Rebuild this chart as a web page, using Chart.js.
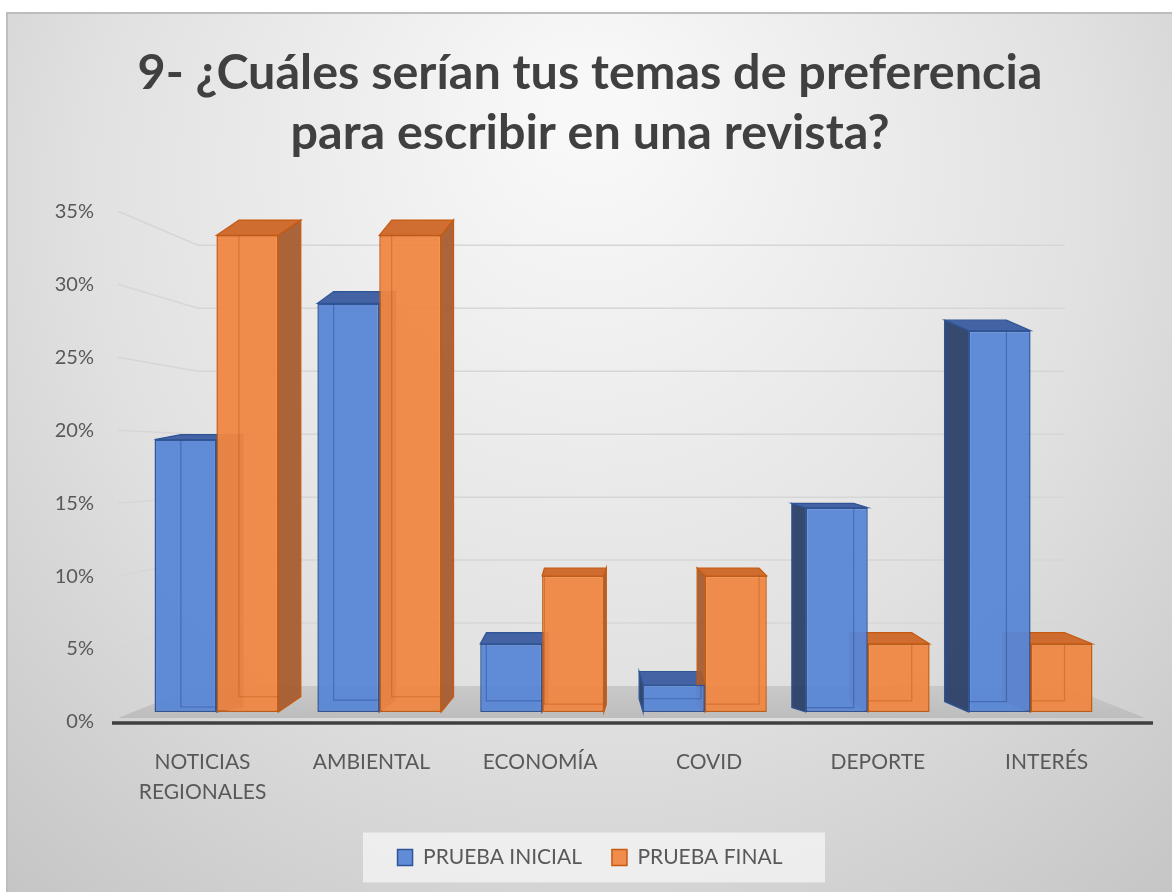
<!DOCTYPE html>
<html><head><meta charset="utf-8">
<script src="https://cdn.jsdelivr.net/npm/chart.js@4.4.0/dist/chart.umd.min.js"></script>
<style>html,body{margin:0;padding:0;background:#fff;}canvas{display:block}</style>
</head><body>
<canvas id="c" width="1172" height="892"></canvas>
<script>
// ---- data ----
const categories = [['NOTICIAS','REGIONALES'], 'AMBIENTAL', 'ECONOMÍA', 'COVID', 'DEPORTE', 'INTERÉS'];
const seriesNames = ['PRUEBA INICIAL', 'PRUEBA FINAL'];
const pruebaInicial = [20, 30, 5, 2, 15, 28];
const pruebaFinal = [35, 35, 10, 10, 5, 5];
const yTicks = [0, 5, 10, 15, 20, 25, 30, 35];
const titleLines = ['9- ¿Cuáles serían tus temas de preferencia', 'para escribir en una revista?'];

const FONT = 'Lato, "Open Sans", sans-serif';
const TXT = '#595959';

const bgPlugin = {
  id: 'bg',
  beforeDraw(chart) {
    const {ctx, width, height} = chart;
    ctx.save();
    ctx.fillStyle = '#fff'; ctx.fillRect(0, 0, width, height);
    const g = ctx.createRadialGradient(590, 110, 40, 590, 260, 880);
    g.addColorStop(0, '#f8f8f8'); g.addColorStop(0.55, '#e1e1e1'); g.addColorStop(1, '#c4c4c4');
    ctx.fillStyle = g; ctx.fillRect(6, 12, width - 6, height - 12);
    ctx.strokeStyle = '#bdbdbd'; ctx.lineWidth = 2;
    ctx.beginPath(); ctx.moveTo(7, height); ctx.lineTo(7, 13); ctx.lineTo(width, 13); ctx.stroke();
    const lg = chart.legend;
    if (lg && lg.legendHitBoxes && lg.legendHitBoxes.length) {
      const hb = lg.legendHitBoxes;
      const last = hb[hb.length - 1];
      const cx = (hb[0].left + last.left + last.width) / 2 + 4;
      const cy = hb[0].top + hb[0].height / 2;
      ctx.fillStyle = 'rgba(246,246,246,0.75)';
      ctx.fillRect(cx - 231, cy - 25, 462, 50);
    }
    ctx.restore();
  }
};

const VXOFF = -13, K = 0.062, EYE = 480;
const faceColors = [
  {top: 'rgba(58,92,160,0.95)', side: 'rgba(44,64,104,0.95)', edge: '#2f5597', inner: 'rgba(40,70,140,0.45)'},
  {top: 'rgba(206,102,38,0.95)', side: 'rgba(168,92,48,0.95)', edge: '#c55a11', inner: 'rgba(190,85,20,0.45)'}
];
function depthOf(chart, x, y) {
  const ca = chart.chartArea;
  const VX = (ca.left + ca.right) / 2 + VXOFF;
  return {dx: (VX - x) * K, dy: -(3 + 0.05 * Math.abs(y - EYE))};
}

const depthPlugin = {
  id: 'depth',
  beforeDatasetsDraw(chart) {
    const {ctx, chartArea: ca, scales} = chart;
    const yg = scales.yGrid, yl = scales.yLab, yb = scales.y;
    const backL = ca.left + 63, backR = ca.right - 47;
    const frontL = ca.left - 17, frontR = ca.right + 33;
    const yBack0 = yg.getPixelForValue(0);
    const yFront0 = yb.getPixelForValue(0) + 6;
    ctx.save();
    const fg = ctx.createLinearGradient(0, yBack0, 0, yFront0);
    fg.addColorStop(0, '#c9c9c9'); fg.addColorStop(1, '#bdbdbd');
    ctx.fillStyle = fg;
    ctx.beginPath();
    ctx.moveTo(backL, yBack0); ctx.lineTo(backR, yBack0);
    ctx.lineTo(frontR, yFront0); ctx.lineTo(frontL, yFront0); ctx.closePath(); ctx.fill();
    ctx.strokeStyle = '#d6d6d6'; ctx.lineWidth = 1.5;
    yTicks.forEach(v => {
      if (v === 0) return;
      const yw = yg.getPixelForValue(v), ylab = yl.getPixelForValue(v);
      ctx.beginPath(); ctx.moveTo(frontL, ylab); ctx.lineTo(backL, yw); ctx.lineTo(backR, yw); ctx.stroke();
    });
    ctx.strokeStyle = '#3f3f3f'; ctx.lineWidth = 3.5;
    ctx.beginPath(); ctx.moveTo(frontL - 6, ca.bottom + 1); ctx.lineTo(frontR + 8, ca.bottom + 1); ctx.stroke();
    chart.data.datasets.forEach((ds, di) => {
      const meta = chart.getDatasetMeta(di);
      const fc = faceColors[di];
      meta.data.forEach(bar => {
        const {x, y, base, width} = bar.getProps(['x', 'y', 'base', 'width'], true);
        const l = x - width / 2, r = x + width / 2;
        const {dx, dy} = depthOf(chart, x, y);
        ctx.lineWidth = 1.2; ctx.strokeStyle = fc.edge;
        const sx = dx >= 0 ? r : l;
        ctx.fillStyle = fc.side;
        ctx.beginPath();
        ctx.moveTo(sx, y); ctx.lineTo(sx + dx, y + dy); ctx.lineTo(sx + dx, base + dy); ctx.lineTo(sx, base);
        ctx.closePath(); ctx.fill(); ctx.stroke();
        ctx.fillStyle = fc.top;
        ctx.beginPath();
        ctx.moveTo(l, y); ctx.lineTo(r, y); ctx.lineTo(r + dx, y + dy); ctx.lineTo(l + dx, y + dy);
        ctx.closePath(); ctx.fill(); ctx.stroke();
      });
    });
    ctx.restore();
  },
  afterDatasetsDraw(chart) {
    const {ctx} = chart;
    ctx.save();
    chart.data.datasets.forEach((ds, di) => {
      const meta = chart.getDatasetMeta(di);
      const fc = faceColors[di];
      meta.data.forEach(bar => {
        const {x, y, base, width} = bar.getProps(['x', 'y', 'base', 'width'], true);
        const l = x - width / 2, r = x + width / 2;
        const {dx, dy} = depthOf(chart, x, y);
        const ix = dx >= 0 ? l + dx : r + dx;
        ctx.strokeStyle = fc.inner; ctx.lineWidth = 1.2;
        ctx.beginPath();
        ctx.moveTo(ix, Math.max(y, y + dy)); ctx.lineTo(ix, base + dy);
        ctx.lineTo(dx >= 0 ? r : l, base + dy);
        ctx.stroke();
      });
    });
    ctx.restore();
  }
};

new Chart(document.getElementById('c'), {
  type: 'bar',
  data: {
    labels: categories,
    datasets: [
      {label: seriesNames[0], data: pruebaInicial, backgroundColor: 'rgba(88,134,214,0.95)', borderColor: '#2f5597', borderWidth: 1.5, borderSkipped: false},
      {label: seriesNames[1], data: pruebaFinal, backgroundColor: 'rgba(240,135,66,0.95)', borderColor: '#c55a11', borderWidth: 1.5, borderSkipped: false}
    ]
  },
  options: {
    responsive: false,
    animation: false,
    datasets: {bar: {categoryPercentage: 0.76, barPercentage: 1.0}},
    layout: {padding: {left: 8, right: 0, top: 0, bottom: 14}},
    scales: {
      x: {type: 'category', display: false, offset: true},
      xLab: {
        type: 'linear', position: 'bottom', bounds: 'data', offset: false, min: -0.40, max: 5.387,
        afterBuildTicks: s => { s.ticks = categories.map((c, i) => ({value: i})); },
        afterFit: s => { s.height = 95; },
        grid: {display: false, drawTicks: false, offset: false}, border: {display: false},
        ticks: {autoSkip: false, maxRotation: 0, padding: 25, color: TXT,
          font: {family: FONT, size: 21, lineHeight: 1.45},
          callback: v => categories[v]}
      },
      y: {type: 'linear', display: false, min: -0.734, max: 36.763},
      yGrid: {type: 'linear', display: false, position: 'left', min: -2.857, max: 37.699},
      yLab: {
        type: 'linear', position: 'left', min: 0, max: 35,
        afterBuildTicks: s => { s.ticks = yTicks.map(v => ({value: v})); },
        afterFit: s => { s.width = 127; },
        grid: {display: false, drawTicks: false}, border: {display: false},
        ticks: {padding: 41, color: TXT, font: {family: FONT, size: 20}, callback: v => v + '%'}
      },
      ySpace: {
        type: 'linear', position: 'right', min: 0, max: 35,
        afterFit: s => { s.width = 60; },
        grid: {display: false, drawTicks: false}, border: {display: false},
        ticks: {display: false}
      }
    },
    plugins: {
      title: {display: true, text: titleLines, color: '#404040',
        font: {family: FONT, size: 48.5, weight: 'bold', lineHeight: 1.24},
        padding: {top: 43, bottom: 48}},
      legend: {position: 'bottom',
        labels: {boxWidth: 15, boxHeight: 16, padding: 30, color: TXT, font: {family: FONT, size: 21}}},
      tooltip: {enabled: false}
    }
  },
  plugins: [bgPlugin, depthPlugin]
});
</script>
</body></html>
